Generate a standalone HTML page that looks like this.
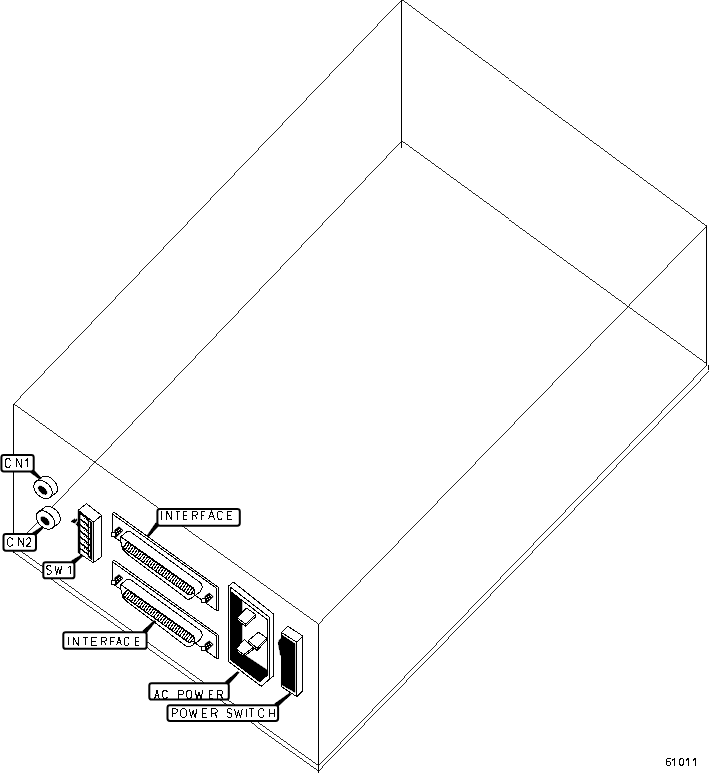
<!DOCTYPE html>
<html><head><meta charset="utf-8"><title>61011</title>
<style>
html,body{margin:0;padding:0;background:#fff;}
body{width:709px;height:773px;overflow:hidden;}
svg{display:block;}
svg text{font-family:"Liberation Sans",sans-serif;fill:#000;}
</style></head><body>
<svg width="709" height="773" viewBox="0 0 709 773" shape-rendering="crispEdges">
<rect width="709" height="773" fill="#fff"/>
<line x1="401.5" y1="0" x2="13.5" y2="404.3" stroke="#000" stroke-width="0.85" />
<line x1="13.5" y1="404.3" x2="318.5" y2="624.1" stroke="#000" stroke-width="0.85" />
<line x1="318.5" y1="624.1" x2="706.5" y2="226" stroke="#000" stroke-width="0.85" />
<line x1="706.5" y1="226" x2="401.5" y2="0" stroke="#000" stroke-width="0.85" />
<line x1="401.5" y1="0" x2="401.5" y2="147.6" stroke="#000" stroke-width="1" />
<line x1="401.5" y1="141.3" x2="13.5" y2="547.6" stroke="#000" stroke-width="0.85" />
<line x1="401.5" y1="141.3" x2="706.5" y2="363.6" stroke="#000" stroke-width="0.85" />
<line x1="13.5" y1="404.3" x2="13.5" y2="552.8" stroke="#000" stroke-width="1" />
<line x1="318.5" y1="624.1" x2="318.5" y2="773" stroke="#000" stroke-width="1" />
<line x1="706.5" y1="226" x2="706.5" y2="365.6" stroke="#000" stroke-width="1" />
<line x1="13.5" y1="546.6" x2="318.5" y2="765.7" stroke="#000" stroke-width="0.85" />
<line x1="318.5" y1="765.7" x2="706.5" y2="365.6" stroke="#000" stroke-width="0.85" />
<line x1="13.5" y1="552.8" x2="318.5" y2="771.1" stroke="#000" stroke-width="0.85" />
<line x1="318.5" y1="771.1" x2="709.5" y2="370.8" stroke="#000" stroke-width="0.85" />
<line x1="708.5" y1="364.5" x2="708.5" y2="370" stroke="#000" stroke-width="2" />
<path d="M55.97,492.97 L55.23,493.58 L54.37,494.04 L53.41,494.37 L52.37,494.53 L51.26,494.54 L50.10,494.40 L48.91,494.10 L47.71,493.65 L46.53,493.06 L45.37,492.34 L44.27,491.51 L43.24,490.56 L42.29,489.53 L41.46,488.43 L40.74,487.27 L40.15,486.09 L39.70,484.89 L39.40,483.70 L39.26,482.54 L39.27,481.43 L39.43,480.39 L39.76,479.43 L40.22,478.57 L40.83,477.83 L41.57,477.22 L42.43,476.76 L43.39,476.43 L44.43,476.27 L45.54,476.26 L46.70,476.40 L47.89,476.70 L49.09,477.15 L50.27,477.74 L51.43,478.46 L52.53,479.29 L53.56,480.24 L54.51,481.27 L55.34,482.37 L56.06,483.53 L56.65,484.71 L57.10,485.91 L57.40,487.10 L57.54,488.26 L57.53,489.37 L57.37,490.41 L57.04,491.37 L56.58,492.23 L55.97,492.97 Z" fill="#fff" stroke="#000" stroke-width="1" stroke-linejoin="round" />
<path d="M35.95,481.49 L41.35,477.39 L55.45,493.41 L50.05,497.51 Z" fill="#fff" stroke="none" stroke-width="1" stroke-linejoin="round" />
<line x1="35.94654059431282" y1="481.48689200165313" x2="41.34654059431282" y2="477.3868920016531" stroke="#000" stroke-width="1" />
<line x1="50.05345940568718" y1="497.51310799834687" x2="55.45345940568718" y2="493.41310799834685" stroke="#000" stroke-width="1" />
<path d="M50.57,497.07 L49.83,497.68 L48.97,498.14 L48.01,498.47 L46.97,498.63 L45.86,498.64 L44.70,498.50 L43.51,498.20 L42.31,497.75 L41.13,497.16 L39.97,496.44 L38.87,495.61 L37.84,494.66 L36.89,493.63 L36.06,492.53 L35.34,491.37 L34.75,490.19 L34.30,488.99 L34.00,487.80 L33.86,486.64 L33.87,485.53 L34.03,484.49 L34.36,483.53 L34.82,482.67 L35.43,481.93 L36.17,481.32 L37.03,480.86 L37.99,480.53 L39.03,480.37 L40.14,480.36 L41.30,480.50 L42.49,480.80 L43.69,481.25 L44.87,481.84 L46.03,482.56 L47.13,483.39 L48.16,484.34 L49.11,485.37 L49.94,486.47 L50.66,487.63 L51.25,488.81 L51.70,490.01 L52.00,491.20 L52.14,492.36 L52.13,493.47 L51.97,494.51 L51.64,495.47 L51.18,496.33 L50.57,497.07 Z" fill="#fff" stroke="#000" stroke-width="1" stroke-linejoin="round" />
<path d="M46.48,494.05 L46.20,494.28 L45.85,494.44 L45.44,494.54 L44.99,494.56 L44.50,494.50 L43.97,494.38 L43.42,494.18 L42.86,493.92 L42.29,493.60 L41.73,493.22 L41.18,492.79 L40.65,492.31 L40.16,491.81 L39.72,491.27 L39.32,490.73 L38.97,490.17 L38.69,489.61 L38.48,489.07 L38.33,488.55 L38.26,488.06 L38.27,487.61 L38.34,487.20 L38.49,486.84 L38.72,486.55 L39.00,486.32 L39.35,486.16 L39.76,486.06 L40.21,486.04 L40.70,486.10 L41.23,486.22 L41.78,486.42 L42.34,486.68 L42.91,487.00 L43.47,487.38 L44.02,487.81 L44.55,488.29 L45.04,488.79 L45.48,489.33 L45.88,489.87 L46.23,490.43 L46.51,490.99 L46.72,491.53 L46.87,492.05 L46.94,492.54 L46.93,492.99 L46.86,493.40 L46.71,493.76 L46.48,494.05 Z" fill="#000" stroke="#000" stroke-width="0.4" stroke-linejoin="round" />
<path d="M58.77,523.27 L58.03,523.88 L57.17,524.34 L56.21,524.67 L55.17,524.83 L54.06,524.84 L52.90,524.70 L51.71,524.40 L50.51,523.95 L49.33,523.36 L48.17,522.64 L47.07,521.81 L46.04,520.86 L45.09,519.83 L44.26,518.73 L43.54,517.57 L42.95,516.39 L42.50,515.19 L42.20,514.00 L42.06,512.84 L42.07,511.73 L42.23,510.69 L42.56,509.73 L43.02,508.87 L43.63,508.13 L44.37,507.52 L45.23,507.06 L46.19,506.73 L47.23,506.57 L48.34,506.56 L49.50,506.70 L50.69,507.00 L51.89,507.45 L53.07,508.04 L54.23,508.76 L55.33,509.59 L56.36,510.54 L57.31,511.57 L58.14,512.67 L58.86,513.83 L59.45,515.01 L59.90,516.21 L60.20,517.40 L60.34,518.56 L60.33,519.67 L60.17,520.71 L59.84,521.67 L59.38,522.53 L58.77,523.27 Z" fill="#fff" stroke="#000" stroke-width="1" stroke-linejoin="round" />
<path d="M38.39,511.95 L44.19,507.65 L58.21,523.75 L52.41,528.05 Z" fill="#fff" stroke="none" stroke-width="1" stroke-linejoin="round" />
<line x1="38.392852895227236" y1="511.9521449449033" x2="44.19285289522723" y2="507.6521449449033" stroke="#000" stroke-width="1" />
<line x1="52.40714710477276" y1="528.0478550550968" x2="58.20714710477276" y2="523.7478550550968" stroke="#000" stroke-width="1" />
<path d="M52.97,527.57 L52.23,528.18 L51.37,528.64 L50.41,528.97 L49.37,529.13 L48.26,529.14 L47.10,529.00 L45.91,528.70 L44.71,528.25 L43.53,527.66 L42.37,526.94 L41.27,526.11 L40.24,525.16 L39.29,524.13 L38.46,523.03 L37.74,521.87 L37.15,520.69 L36.70,519.49 L36.40,518.30 L36.26,517.14 L36.27,516.03 L36.43,514.99 L36.76,514.03 L37.22,513.17 L37.83,512.43 L38.57,511.82 L39.43,511.36 L40.39,511.03 L41.43,510.87 L42.54,510.86 L43.70,511.00 L44.89,511.30 L46.09,511.75 L47.27,512.34 L48.43,513.06 L49.53,513.89 L50.56,514.84 L51.51,515.87 L52.34,516.97 L53.06,518.13 L53.65,519.31 L54.10,520.51 L54.40,521.70 L54.54,522.86 L54.53,523.97 L54.37,525.01 L54.04,525.97 L53.58,526.83 L52.97,527.57 Z" fill="#fff" stroke="#000" stroke-width="1" stroke-linejoin="round" />
<path d="M48.88,524.55 L48.60,524.78 L48.25,524.94 L47.84,525.04 L47.39,525.06 L46.90,525.00 L46.37,524.88 L45.82,524.68 L45.26,524.42 L44.69,524.10 L44.13,523.72 L43.58,523.29 L43.05,522.81 L42.56,522.31 L42.12,521.77 L41.72,521.23 L41.37,520.67 L41.09,520.11 L40.88,519.57 L40.73,519.05 L40.66,518.56 L40.67,518.11 L40.74,517.70 L40.89,517.34 L41.12,517.05 L41.40,516.82 L41.75,516.66 L42.16,516.56 L42.61,516.54 L43.10,516.60 L43.63,516.72 L44.18,516.92 L44.74,517.18 L45.31,517.50 L45.87,517.88 L46.42,518.31 L46.95,518.79 L47.44,519.29 L47.88,519.83 L48.28,520.37 L48.63,520.93 L48.91,521.49 L49.12,522.03 L49.27,522.55 L49.34,523.04 L49.33,523.49 L49.26,523.90 L49.11,524.26 L48.88,524.55 Z" fill="#000" stroke="#000" stroke-width="0.4" stroke-linejoin="round" />
<path d="M78.20,510.20 L86.40,503.70 L101.60,515.30 L101.60,556.60 L93.40,562.70 L78.20,552.70 Z" fill="#fff" stroke="#000" stroke-width="1" stroke-linejoin="round" />
<path d="M78.20,510.20 L93.40,522.10 L101.60,515.30" fill="none" stroke="#000" stroke-width="1" stroke-linejoin="round" />
<line x1="93.4" y1="522.1" x2="93.4" y2="562.7" stroke="#000" stroke-width="1" />
<path d="M78.20,510.20 L80.20,511.80 L80.20,554.00 L78.20,552.70 Z" fill="#000" stroke="#000" stroke-width="0.5" stroke-linejoin="round" />
<line x1="80.0" y1="513.2" x2="88.8" y2="519.7" stroke="#000" stroke-width="1.5" />
<line x1="80.0" y1="519.1" x2="88.8" y2="525.6" stroke="#000" stroke-width="1.5" />
<line x1="80.0" y1="525.0" x2="88.8" y2="531.5" stroke="#000" stroke-width="1.5" />
<line x1="80.0" y1="531.0" x2="88.8" y2="537.5" stroke="#000" stroke-width="1.5" />
<line x1="80.0" y1="536.9" x2="88.8" y2="543.4" stroke="#000" stroke-width="1.5" />
<line x1="80.0" y1="542.8" x2="88.8" y2="549.3" stroke="#000" stroke-width="1.5" />
<line x1="80.0" y1="548.4" x2="88.8" y2="554.9" stroke="#000" stroke-width="1.5" />
<line x1="84.3" y1="518.1" x2="88.0" y2="520.9000000000001" stroke="#000" stroke-width="1.2" stroke-dasharray="1 1"/>
<line x1="84.3" y1="524.0" x2="88.0" y2="526.8000000000001" stroke="#000" stroke-width="1.2" stroke-dasharray="1 1"/>
<line x1="84.3" y1="529.9" x2="88.0" y2="532.7" stroke="#000" stroke-width="1.2" stroke-dasharray="1 1"/>
<line x1="84.3" y1="535.9" x2="88.0" y2="538.7" stroke="#000" stroke-width="1.2" stroke-dasharray="1 1"/>
<line x1="84.3" y1="541.8" x2="88.0" y2="544.6" stroke="#000" stroke-width="1.2" stroke-dasharray="1 1"/>
<line x1="84.3" y1="547.6999999999999" x2="88.0" y2="550.5" stroke="#000" stroke-width="1.2" stroke-dasharray="1 1"/>
<path d="M88.10,519.60 L92.00,522.40 L92.00,559.90 L88.10,557.20 Z" fill="#000" stroke="#000" stroke-width="0.3" stroke-linejoin="round" />
<line x1="89.6" y1="522.4" x2="89.6" y2="557.3" stroke="#fff" stroke-width="1.2" stroke-dasharray="4.2 1.7"/>
<path d="M71.00,521.60 L74.60,518.60 L74.80,520.00 L77.00,518.80 L77.00,520.80 L75.20,521.80 L75.40,523.20 Z" fill="#000" stroke="#000" stroke-width="0.5" stroke-linejoin="round" />
<path d="M76.80,522.60 L79.00,520.80 L79.20,526.20 L77.40,526.20 L77.40,524.00 L76.20,524.80 Z" fill="#000" stroke="#000" stroke-width="0.5" stroke-linejoin="round" />
<g transform="translate(0,0)">
<path d="M112.30,513.90 L216.80,588.40 L216.80,610.80 L112.30,535.60 Z" fill="#fff" stroke="#000" stroke-width="1" stroke-linejoin="round" />
<path d="M112.30,513.60 L113.90,512.20 L218.70,587.60 L218.70,610.40 L216.80,610.80" fill="none" stroke="#000" stroke-width="1" stroke-linejoin="round" />
<path d="M120.70,536.70 L126.60,531.90 L128.50,531.40 L130.40,531.70 L200.10,582.50 L201.80,584.60 L202.20,586.80 L201.80,588.80 L199.70,592.20 L196.30,594.80 L194.20,595.60 L192.90,597.30 L189.50,599.00 L187.00,599.00 L127.80,554.40 L122.30,549.00 L121.90,545.60 L120.70,541.40 Z" fill="#fff" stroke="#000" stroke-width="1" stroke-linejoin="round" />
<clipPath id="bc0"><path d="M127.4,542.2 L194.2,589.3 L194.6,593.1 L188.7,594.8 L122.3,547.6 Z"/></clipPath>
<g clip-path="url(#bc0)">
<line x1="128.20000000000002" y1="541.1" x2="122.2" y2="549.5" stroke="#000" stroke-width="1.05" />
<line x1="130.22424242424245" y1="542.5272727272727" x2="124.22424242424243" y2="550.9272727272727" stroke="#000" stroke-width="1.05" />
<line x1="132.24848484848488" y1="543.9545454545455" x2="126.24848484848486" y2="552.3545454545455" stroke="#000" stroke-width="1.05" />
<line x1="134.27272727272728" y1="545.3818181818182" x2="128.27272727272728" y2="553.7818181818182" stroke="#000" stroke-width="1.05" />
<line x1="136.2969696969697" y1="546.809090909091" x2="130.2969696969697" y2="555.209090909091" stroke="#000" stroke-width="1.05" />
<line x1="138.32121212121214" y1="548.2363636363636" x2="132.32121212121214" y2="556.6363636363636" stroke="#000" stroke-width="1.05" />
<line x1="140.34545454545457" y1="549.6636363636363" x2="134.34545454545457" y2="558.0636363636363" stroke="#000" stroke-width="1.05" />
<line x1="142.36969696969697" y1="551.0909090909091" x2="136.36969696969697" y2="559.4909090909091" stroke="#000" stroke-width="1.05" />
<line x1="144.3939393939394" y1="552.5181818181818" x2="138.3939393939394" y2="560.9181818181818" stroke="#000" stroke-width="1.05" />
<line x1="146.41818181818184" y1="553.9454545454546" x2="140.41818181818184" y2="562.3454545454546" stroke="#000" stroke-width="1.05" />
<line x1="148.44242424242427" y1="555.3727272727273" x2="142.44242424242427" y2="563.7727272727273" stroke="#000" stroke-width="1.05" />
<line x1="150.46666666666667" y1="556.8" x2="144.46666666666667" y2="565.1999999999999" stroke="#000" stroke-width="1.05" />
<line x1="152.4909090909091" y1="558.2272727272727" x2="146.4909090909091" y2="566.6272727272727" stroke="#000" stroke-width="1.05" />
<line x1="154.51515151515153" y1="559.6545454545454" x2="148.51515151515153" y2="568.0545454545454" stroke="#000" stroke-width="1.05" />
<line x1="156.53939393939396" y1="561.0818181818182" x2="150.53939393939396" y2="569.4818181818182" stroke="#000" stroke-width="1.05" />
<line x1="158.56363636363636" y1="562.5090909090909" x2="152.56363636363636" y2="570.9090909090909" stroke="#000" stroke-width="1.05" />
<line x1="160.5878787878788" y1="563.9363636363636" x2="154.5878787878788" y2="572.3363636363636" stroke="#000" stroke-width="1.05" />
<line x1="162.61212121212122" y1="565.3636363636364" x2="156.61212121212122" y2="573.7636363636364" stroke="#000" stroke-width="1.05" />
<line x1="164.63636363636363" y1="566.790909090909" x2="158.63636363636363" y2="575.190909090909" stroke="#000" stroke-width="1.05" />
<line x1="166.66060606060609" y1="568.2181818181817" x2="160.66060606060609" y2="576.6181818181817" stroke="#000" stroke-width="1.05" />
<line x1="168.6848484848485" y1="569.6454545454545" x2="162.6848484848485" y2="578.0454545454545" stroke="#000" stroke-width="1.05" />
<line x1="170.70909090909092" y1="571.0727272727272" x2="164.70909090909092" y2="579.4727272727272" stroke="#000" stroke-width="1.05" />
<line x1="172.73333333333335" y1="572.5" x2="166.73333333333335" y2="580.9" stroke="#000" stroke-width="1.05" />
<line x1="174.75757575757575" y1="573.9272727272727" x2="168.75757575757575" y2="582.3272727272727" stroke="#000" stroke-width="1.05" />
<line x1="176.78181818181818" y1="575.3545454545454" x2="170.78181818181818" y2="583.7545454545453" stroke="#000" stroke-width="1.05" />
<line x1="178.8060606060606" y1="576.7818181818182" x2="172.8060606060606" y2="585.1818181818181" stroke="#000" stroke-width="1.05" />
<line x1="180.830303030303" y1="578.2090909090908" x2="174.830303030303" y2="586.6090909090908" stroke="#000" stroke-width="1.05" />
<line x1="182.85454545454547" y1="579.6363636363636" x2="176.85454545454547" y2="588.0363636363636" stroke="#000" stroke-width="1.05" />
<line x1="184.87878787878788" y1="581.0636363636363" x2="178.87878787878788" y2="589.4636363636363" stroke="#000" stroke-width="1.05" />
<line x1="186.9030303030303" y1="582.490909090909" x2="180.9030303030303" y2="590.890909090909" stroke="#000" stroke-width="1.05" />
<line x1="188.92727272727274" y1="583.9181818181818" x2="182.92727272727274" y2="592.3181818181818" stroke="#000" stroke-width="1.05" />
<line x1="190.95151515151514" y1="585.3454545454545" x2="184.95151515151514" y2="593.7454545454544" stroke="#000" stroke-width="1.05" />
<line x1="192.9757575757576" y1="586.7727272727273" x2="186.9757575757576" y2="595.1727272727272" stroke="#000" stroke-width="1.05" />
<line x1="195.0" y1="588.1999999999999" x2="189.0" y2="596.5999999999999" stroke="#000" stroke-width="1.05" />
</g>
<path d="M127.40,542.20 L194.20,589.30 L194.60,593.10 L188.70,594.80 L122.30,547.60 Z" fill="none" stroke="#000" stroke-width="1" stroke-linejoin="round" />
<line x1="120.7" y1="536.7" x2="128.5" y2="542.2" stroke="#000" stroke-width="1.0" />
<line x1="127.4" y1="541.5" x2="194.2" y2="588.8" stroke="#000" stroke-width="1.4" />
<line x1="122.3" y1="547.4" x2="188.7" y2="594.6" stroke="#000" stroke-width="1.1" />
<path d="M194.30,589.30 L194.70,593.10 L194.00,595.60" fill="none" stroke="#000" stroke-width="1.3" stroke-linejoin="round" />
<g transform="translate(0,0)">
<path d="M114.80,530.00 L119.00,526.90 L123.00,530.40 L116.40,536.90 L114.80,535.50 Z" fill="#000" stroke="#000" stroke-width="0.8" stroke-linejoin="round" />
<rect x="117.5" y="530.1" width="1" height="1" fill="#fff"/>
<rect x="119.3" y="528.7" width="1" height="1" fill="#fff"/>
<rect x="118.9" y="531.5" width="1" height="1" fill="#fff"/>
<rect x="120.7" y="530.1" width="1" height="1" fill="#fff"/>
<rect x="117.1" y="532.9" width="1" height="1" fill="#fff"/>
<rect x="116.1" y="531.1" width="1" height="1" fill="#fff"/>
<rect x="111.4" y="532.4" width="4.2" height="4.2" rx="1" fill="#fff" stroke="#000" stroke-width="1"/>
</g>
<g transform="translate(90.2,66.3)">
<path d="M114.80,530.00 L119.00,526.90 L123.00,530.40 L116.40,536.90 L114.80,535.50 Z" fill="#000" stroke="#000" stroke-width="0.8" stroke-linejoin="round" />
<rect x="117.5" y="530.1" width="1" height="1" fill="#fff"/>
<rect x="119.3" y="528.7" width="1" height="1" fill="#fff"/>
<rect x="118.9" y="531.5" width="1" height="1" fill="#fff"/>
<rect x="120.7" y="530.1" width="1" height="1" fill="#fff"/>
<rect x="117.1" y="532.9" width="1" height="1" fill="#fff"/>
<rect x="116.1" y="531.1" width="1" height="1" fill="#fff"/>
<rect x="111.4" y="532.4" width="4.2" height="4.2" rx="1" fill="#fff" stroke="#000" stroke-width="1"/>
</g>
</g>
<g transform="translate(0,47.8)">
<path d="M112.30,513.90 L216.80,588.40 L216.80,610.80 L112.30,535.60 Z" fill="#fff" stroke="#000" stroke-width="1" stroke-linejoin="round" />
<path d="M112.30,513.60 L113.90,512.20 L218.70,587.60 L218.70,610.40 L216.80,610.80" fill="none" stroke="#000" stroke-width="1" stroke-linejoin="round" />
<path d="M120.70,536.70 L126.60,531.90 L128.50,531.40 L130.40,531.70 L200.10,582.50 L201.80,584.60 L202.20,586.80 L201.80,588.80 L199.70,592.20 L196.30,594.80 L194.20,595.60 L192.90,597.30 L189.50,599.00 L187.00,599.00 L127.80,554.40 L122.30,549.00 L121.90,545.60 L120.70,541.40 Z" fill="#fff" stroke="#000" stroke-width="1" stroke-linejoin="round" />
<clipPath id="bc47"><path d="M127.4,542.2 L194.2,589.3 L194.6,593.1 L188.7,594.8 L122.3,547.6 Z"/></clipPath>
<g clip-path="url(#bc47)">
<line x1="128.20000000000002" y1="541.1" x2="122.2" y2="549.5" stroke="#000" stroke-width="1.05" />
<line x1="130.22424242424245" y1="542.5272727272727" x2="124.22424242424243" y2="550.9272727272727" stroke="#000" stroke-width="1.05" />
<line x1="132.24848484848488" y1="543.9545454545455" x2="126.24848484848486" y2="552.3545454545455" stroke="#000" stroke-width="1.05" />
<line x1="134.27272727272728" y1="545.3818181818182" x2="128.27272727272728" y2="553.7818181818182" stroke="#000" stroke-width="1.05" />
<line x1="136.2969696969697" y1="546.809090909091" x2="130.2969696969697" y2="555.209090909091" stroke="#000" stroke-width="1.05" />
<line x1="138.32121212121214" y1="548.2363636363636" x2="132.32121212121214" y2="556.6363636363636" stroke="#000" stroke-width="1.05" />
<line x1="140.34545454545457" y1="549.6636363636363" x2="134.34545454545457" y2="558.0636363636363" stroke="#000" stroke-width="1.05" />
<line x1="142.36969696969697" y1="551.0909090909091" x2="136.36969696969697" y2="559.4909090909091" stroke="#000" stroke-width="1.05" />
<line x1="144.3939393939394" y1="552.5181818181818" x2="138.3939393939394" y2="560.9181818181818" stroke="#000" stroke-width="1.05" />
<line x1="146.41818181818184" y1="553.9454545454546" x2="140.41818181818184" y2="562.3454545454546" stroke="#000" stroke-width="1.05" />
<line x1="148.44242424242427" y1="555.3727272727273" x2="142.44242424242427" y2="563.7727272727273" stroke="#000" stroke-width="1.05" />
<line x1="150.46666666666667" y1="556.8" x2="144.46666666666667" y2="565.1999999999999" stroke="#000" stroke-width="1.05" />
<line x1="152.4909090909091" y1="558.2272727272727" x2="146.4909090909091" y2="566.6272727272727" stroke="#000" stroke-width="1.05" />
<line x1="154.51515151515153" y1="559.6545454545454" x2="148.51515151515153" y2="568.0545454545454" stroke="#000" stroke-width="1.05" />
<line x1="156.53939393939396" y1="561.0818181818182" x2="150.53939393939396" y2="569.4818181818182" stroke="#000" stroke-width="1.05" />
<line x1="158.56363636363636" y1="562.5090909090909" x2="152.56363636363636" y2="570.9090909090909" stroke="#000" stroke-width="1.05" />
<line x1="160.5878787878788" y1="563.9363636363636" x2="154.5878787878788" y2="572.3363636363636" stroke="#000" stroke-width="1.05" />
<line x1="162.61212121212122" y1="565.3636363636364" x2="156.61212121212122" y2="573.7636363636364" stroke="#000" stroke-width="1.05" />
<line x1="164.63636363636363" y1="566.790909090909" x2="158.63636363636363" y2="575.190909090909" stroke="#000" stroke-width="1.05" />
<line x1="166.66060606060609" y1="568.2181818181817" x2="160.66060606060609" y2="576.6181818181817" stroke="#000" stroke-width="1.05" />
<line x1="168.6848484848485" y1="569.6454545454545" x2="162.6848484848485" y2="578.0454545454545" stroke="#000" stroke-width="1.05" />
<line x1="170.70909090909092" y1="571.0727272727272" x2="164.70909090909092" y2="579.4727272727272" stroke="#000" stroke-width="1.05" />
<line x1="172.73333333333335" y1="572.5" x2="166.73333333333335" y2="580.9" stroke="#000" stroke-width="1.05" />
<line x1="174.75757575757575" y1="573.9272727272727" x2="168.75757575757575" y2="582.3272727272727" stroke="#000" stroke-width="1.05" />
<line x1="176.78181818181818" y1="575.3545454545454" x2="170.78181818181818" y2="583.7545454545453" stroke="#000" stroke-width="1.05" />
<line x1="178.8060606060606" y1="576.7818181818182" x2="172.8060606060606" y2="585.1818181818181" stroke="#000" stroke-width="1.05" />
<line x1="180.830303030303" y1="578.2090909090908" x2="174.830303030303" y2="586.6090909090908" stroke="#000" stroke-width="1.05" />
<line x1="182.85454545454547" y1="579.6363636363636" x2="176.85454545454547" y2="588.0363636363636" stroke="#000" stroke-width="1.05" />
<line x1="184.87878787878788" y1="581.0636363636363" x2="178.87878787878788" y2="589.4636363636363" stroke="#000" stroke-width="1.05" />
<line x1="186.9030303030303" y1="582.490909090909" x2="180.9030303030303" y2="590.890909090909" stroke="#000" stroke-width="1.05" />
<line x1="188.92727272727274" y1="583.9181818181818" x2="182.92727272727274" y2="592.3181818181818" stroke="#000" stroke-width="1.05" />
<line x1="190.95151515151514" y1="585.3454545454545" x2="184.95151515151514" y2="593.7454545454544" stroke="#000" stroke-width="1.05" />
<line x1="192.9757575757576" y1="586.7727272727273" x2="186.9757575757576" y2="595.1727272727272" stroke="#000" stroke-width="1.05" />
<line x1="195.0" y1="588.1999999999999" x2="189.0" y2="596.5999999999999" stroke="#000" stroke-width="1.05" />
</g>
<path d="M127.40,542.20 L194.20,589.30 L194.60,593.10 L188.70,594.80 L122.30,547.60 Z" fill="none" stroke="#000" stroke-width="1" stroke-linejoin="round" />
<line x1="120.7" y1="536.7" x2="128.5" y2="542.2" stroke="#000" stroke-width="1.0" />
<line x1="127.4" y1="541.5" x2="194.2" y2="588.8" stroke="#000" stroke-width="1.4" />
<line x1="122.3" y1="547.4" x2="188.7" y2="594.6" stroke="#000" stroke-width="1.1" />
<path d="M194.30,589.30 L194.70,593.10 L194.00,595.60" fill="none" stroke="#000" stroke-width="1.3" stroke-linejoin="round" />
<g transform="translate(0,0)">
<path d="M114.80,530.00 L119.00,526.90 L123.00,530.40 L116.40,536.90 L114.80,535.50 Z" fill="#000" stroke="#000" stroke-width="0.8" stroke-linejoin="round" />
<rect x="117.5" y="530.1" width="1" height="1" fill="#fff"/>
<rect x="119.3" y="528.7" width="1" height="1" fill="#fff"/>
<rect x="118.9" y="531.5" width="1" height="1" fill="#fff"/>
<rect x="120.7" y="530.1" width="1" height="1" fill="#fff"/>
<rect x="117.1" y="532.9" width="1" height="1" fill="#fff"/>
<rect x="116.1" y="531.1" width="1" height="1" fill="#fff"/>
<rect x="111.4" y="532.4" width="4.2" height="4.2" rx="1" fill="#fff" stroke="#000" stroke-width="1"/>
</g>
<g transform="translate(90.2,66.3)">
<path d="M114.80,530.00 L119.00,526.90 L123.00,530.40 L116.40,536.90 L114.80,535.50 Z" fill="#000" stroke="#000" stroke-width="0.8" stroke-linejoin="round" />
<rect x="117.5" y="530.1" width="1" height="1" fill="#fff"/>
<rect x="119.3" y="528.7" width="1" height="1" fill="#fff"/>
<rect x="118.9" y="531.5" width="1" height="1" fill="#fff"/>
<rect x="120.7" y="530.1" width="1" height="1" fill="#fff"/>
<rect x="117.1" y="532.9" width="1" height="1" fill="#fff"/>
<rect x="116.1" y="531.1" width="1" height="1" fill="#fff"/>
<rect x="111.4" y="532.4" width="4.2" height="4.2" rx="1" fill="#fff" stroke="#000" stroke-width="1"/>
</g>
</g>
<path d="M228.30,586.20 L233.40,582.10 L273.60,614.10 L273.60,675.80 L261.30,686.30 L228.30,661.40 Z" fill="#fff" stroke="#000" stroke-width="1" stroke-linejoin="round" />
<path d="M230.00,659.70 L230.00,586.80 L269.80,617.50 L269.80,678.60" fill="none" stroke="#000" stroke-width="1" stroke-linejoin="round" />
<path d="M230.50,592.10 L231.30,592.10 L267.70,620.00 L267.70,674.90 L259.60,681.70 L230.50,659.70 Z" fill="#fff" stroke="#000" stroke-width="1" stroke-linejoin="round" />
<path d="M230.50,592.10 L231.30,592.10 L241.90,600.50 L241.90,653.30 L267.70,670.40 L267.70,674.90 L259.60,681.70 L230.50,659.70 Z" fill="#000" stroke="#000" stroke-width="0.6" stroke-linejoin="round" />
<path d="M236.80,617.50 L246.50,608.10 L255.80,614.50 L255.80,616.60 L245.70,626.30 L236.80,619.60 Z" fill="#fff" stroke="#000" stroke-width="1" stroke-linejoin="round" />
<path d="M236.80,617.50 L245.70,624.20 L255.80,614.50" fill="none" stroke="#000" stroke-width="1" stroke-linejoin="round" />
<line x1="245.7" y1="624.2" x2="245.7" y2="626.3000000000001" stroke="#000" stroke-width="1" />
<path d="M236.00,648.70 L244.40,639.40 L253.30,647.40 L253.30,649.50 L243.60,656.70 L236.00,650.80 Z" fill="#fff" stroke="#000" stroke-width="1" stroke-linejoin="round" />
<path d="M236.00,648.70 L243.60,654.60 L253.30,647.40" fill="none" stroke="#000" stroke-width="1" stroke-linejoin="round" />
<line x1="243.6" y1="654.6" x2="243.6" y2="656.7" stroke="#000" stroke-width="1" />
<path d="M248.20,640.70 L258.40,632.20 L266.80,638.10 L266.80,640.20 L257.10,650.40 L248.20,642.80 Z" fill="#fff" stroke="#000" stroke-width="1" stroke-linejoin="round" />
<path d="M248.20,640.70 L257.10,648.30 L266.80,638.10" fill="none" stroke="#000" stroke-width="1" stroke-linejoin="round" />
<line x1="257.1" y1="648.3" x2="257.1" y2="650.4" stroke="#000" stroke-width="1" />
<path d="M281.40,632.40 L287.60,626.20 L302.90,636.00 L302.90,690.90 L296.70,696.60 L281.40,686.70 Z" fill="#fff" stroke="#000" stroke-width="1" stroke-linejoin="round" />
<path d="M281.40,632.40 L296.70,642.20 L302.90,636.00" fill="none" stroke="#000" stroke-width="1" stroke-linejoin="round" />
<line x1="296.7" y1="642.2" x2="296.7" y2="696.6" stroke="#000" stroke-width="1" />
<path d="M281.90,635.00 L295.00,643.80 L295.00,692.40 L281.40,684.70 Z" fill="#000" stroke="#000" stroke-width="0.4" stroke-linejoin="round" />
<path d="M281.60,638.10 L279.30,639.70 L278.30,642.80 L278.80,646.90 L279.80,651.00 L280.30,655.20 L281.60,655.70 Z" fill="#000" stroke="#000" stroke-width="0.5" stroke-linejoin="round" />
<path d="M30.50,472.56 L33.30,469.44 L41.20,478.13 L40.00,479.47 Z" fill="#000" stroke="#000" stroke-width="0.7" stroke-linejoin="round" />
<rect x="1.40" y="454.90" width="32.30" height="16.60" rx="2.4" fill="#fff" stroke="#000" stroke-width="2.0" shape-rendering="geometricPrecision"/>
<path d="M10.50,460.54 L9.48,458.95 L7.95,458.60 L6.42,458.95 L5.40,460.54 L5.40,465.46 L6.42,467.05 L7.95,467.40 L9.48,467.05 L10.50,465.46" fill="none" stroke="#000" stroke-width="1.0" stroke-linejoin="round" stroke-linecap="butt" shape-rendering="crispEdges"/>
<path d="M16.60,467.40 L16.60,458.60 L21.50,467.40 L21.50,458.60" fill="none" stroke="#000" stroke-width="1.0" stroke-linejoin="round" stroke-linecap="butt" shape-rendering="crispEdges"/>
<path d="M25.50,461.06 L27.80,458.60 L27.80,467.40" fill="none" stroke="#000" stroke-width="1.0" stroke-linejoin="round" stroke-linecap="butt" shape-rendering="crispEdges"/>
<path d="M34.91,536.24 L32.29,532.96 L42.04,526.70 L43.16,528.10 Z" fill="#000" stroke="#000" stroke-width="0.7" stroke-linejoin="round" />
<rect x="3.50" y="534.10" width="32.50" height="16.60" rx="2.4" fill="#fff" stroke="#000" stroke-width="2.0" shape-rendering="geometricPrecision"/>
<path d="M12.80,539.65 L11.74,538.14 L10.15,537.80 L8.56,538.14 L7.50,539.65 L7.50,544.35 L8.56,545.86 L10.15,546.20 L11.74,545.86 L12.80,544.35" fill="none" stroke="#000" stroke-width="1.0" stroke-linejoin="round" stroke-linecap="butt" shape-rendering="crispEdges"/>
<path d="M18.80,546.20 L18.80,537.80 L23.80,546.20 L23.80,537.80" fill="none" stroke="#000" stroke-width="1.0" stroke-linejoin="round" stroke-linecap="butt" shape-rendering="crispEdges"/>
<path d="M26.50,539.65 L27.38,538.14 L28.70,537.80 L30.02,538.14 L30.90,539.65 L30.90,541.16 L26.50,546.20 L30.90,546.20" fill="none" stroke="#000" stroke-width="1.0" stroke-linejoin="round" stroke-linecap="butt" shape-rendering="crispEdges"/>
<path d="M73.85,564.29 L71.35,560.91 L82.06,554.48 L83.14,555.92 Z" fill="#000" stroke="#000" stroke-width="0.7" stroke-linejoin="round" />
<rect x="43.30" y="562.30" width="31.10" height="16.00" rx="2.4" fill="#fff" stroke="#000" stroke-width="2.0" shape-rendering="geometricPrecision"/>
<path d="M51.20,567.13 L50.23,565.70 L47.77,565.70 L46.80,566.96 L46.80,568.47 L47.77,569.56 L50.23,570.24 L51.20,571.33 L51.20,572.84 L50.23,574.10 L47.77,574.10 L46.80,572.67" fill="none" stroke="#000" stroke-width="1.0" stroke-linejoin="round" stroke-linecap="butt" shape-rendering="crispEdges"/>
<path d="M54.90,565.70 L56.62,574.10 L58.35,567.80 L60.07,574.10 L61.80,565.70" fill="none" stroke="#000" stroke-width="1.0" stroke-linejoin="round" stroke-linecap="butt" shape-rendering="crispEdges"/>
<path d="M68.00,568.05 L70.00,565.70 L70.00,574.10" fill="none" stroke="#000" stroke-width="1.0" stroke-linejoin="round" stroke-linecap="butt" shape-rendering="crispEdges"/>
<path d="M155.96,522.69 L159.24,525.31 L148.30,537.06 L146.90,535.94 Z" fill="#000" stroke="#000" stroke-width="0.7" stroke-linejoin="round" />
<rect x="157.40" y="509.00" width="82.40" height="16.70" rx="2.4" fill="#fff" stroke="#000" stroke-width="2.0" shape-rendering="geometricPrecision"/>
<path d="M161.30,511.00 L161.30,519.50" fill="none" stroke="#000" stroke-width="1.0" stroke-linejoin="round" stroke-linecap="butt" shape-rendering="crispEdges"/>
<path d="M166.70,519.50 L166.70,511.00 L171.30,519.50 L171.30,511.00" fill="none" stroke="#000" stroke-width="1.0" stroke-linejoin="round" stroke-linecap="butt" shape-rendering="crispEdges"/>
<path d="M175.90,511.00 L179.50,511.00" fill="none" stroke="#000" stroke-width="1.0" stroke-linejoin="round" stroke-linecap="butt" shape-rendering="crispEdges"/>
<path d="M177.70,511.00 L177.70,519.50" fill="none" stroke="#000" stroke-width="1.0" stroke-linejoin="round" stroke-linecap="butt" shape-rendering="crispEdges"/>
<path d="M187.20,511.00 L183.70,511.00 L183.70,519.50 L187.20,519.50" fill="none" stroke="#000" stroke-width="1.0" stroke-linejoin="round" stroke-linecap="butt" shape-rendering="crispEdges"/>
<path d="M183.70,515.25 L186.50,515.25" fill="none" stroke="#000" stroke-width="1.0" stroke-linejoin="round" stroke-linecap="butt" shape-rendering="crispEdges"/>
<path d="M192.80,519.50 L192.80,511.00 L195.95,511.00 L197.30,512.02 L197.30,514.23 L195.95,515.25 L192.80,515.25" fill="none" stroke="#000" stroke-width="1.0" stroke-linejoin="round" stroke-linecap="butt" shape-rendering="crispEdges"/>
<path d="M195.28,515.25 L197.30,519.50" fill="none" stroke="#000" stroke-width="1.0" stroke-linejoin="round" stroke-linecap="butt" shape-rendering="crispEdges"/>
<path d="M205.20,511.00 L201.60,511.00 L201.60,519.50" fill="none" stroke="#000" stroke-width="1.0" stroke-linejoin="round" stroke-linecap="butt" shape-rendering="crispEdges"/>
<path d="M201.60,515.25 L204.48,515.25" fill="none" stroke="#000" stroke-width="1.0" stroke-linejoin="round" stroke-linecap="butt" shape-rendering="crispEdges"/>
<path d="M208.50,519.50 L211.55,511.00 L214.60,519.50" fill="none" stroke="#000" stroke-width="1.0" stroke-linejoin="round" stroke-linecap="butt" shape-rendering="crispEdges"/>
<path d="M209.72,516.61 L213.38,516.61" fill="none" stroke="#000" stroke-width="1.0" stroke-linejoin="round" stroke-linecap="butt" shape-rendering="crispEdges"/>
<path d="M222.40,512.87 L221.44,511.34 L220.00,511.00 L218.56,511.34 L217.60,512.87 L217.60,517.63 L218.56,519.16 L220.00,519.50 L221.44,519.16 L222.40,517.63" fill="none" stroke="#000" stroke-width="1.0" stroke-linejoin="round" stroke-linecap="butt" shape-rendering="crispEdges"/>
<path d="M231.50,511.00 L227.60,511.00 L227.60,519.50 L231.50,519.50" fill="none" stroke="#000" stroke-width="1.0" stroke-linejoin="round" stroke-linecap="butt" shape-rendering="crispEdges"/>
<path d="M227.60,515.25 L230.72,515.25" fill="none" stroke="#000" stroke-width="1.0" stroke-linejoin="round" stroke-linecap="butt" shape-rendering="crispEdges"/>
<path d="M145.84,633.82 L142.76,630.98 L154.24,620.29 L155.56,621.51 Z" fill="#000" stroke="#000" stroke-width="0.7" stroke-linejoin="round" />
<rect x="63.30" y="632.20" width="83.30" height="16.60" rx="2.4" fill="#fff" stroke="#000" stroke-width="2.0" shape-rendering="geometricPrecision"/>
<path d="M68.30,637.00 L68.30,645.40" fill="none" stroke="#000" stroke-width="1.0" stroke-linejoin="round" stroke-linecap="butt" shape-rendering="crispEdges"/>
<path d="M73.20,645.40 L73.20,637.00 L78.20,645.40 L78.20,637.00" fill="none" stroke="#000" stroke-width="1.0" stroke-linejoin="round" stroke-linecap="butt" shape-rendering="crispEdges"/>
<path d="M83.00,637.00 L87.80,637.00" fill="none" stroke="#000" stroke-width="1.0" stroke-linejoin="round" stroke-linecap="butt" shape-rendering="crispEdges"/>
<path d="M85.40,637.00 L85.40,645.40" fill="none" stroke="#000" stroke-width="1.0" stroke-linejoin="round" stroke-linecap="butt" shape-rendering="crispEdges"/>
<path d="M96.60,637.00 L91.90,637.00 L91.90,645.40 L96.60,645.40" fill="none" stroke="#000" stroke-width="1.0" stroke-linejoin="round" stroke-linecap="butt" shape-rendering="crispEdges"/>
<path d="M91.90,641.20 L95.66,641.20" fill="none" stroke="#000" stroke-width="1.0" stroke-linejoin="round" stroke-linecap="butt" shape-rendering="crispEdges"/>
<path d="M101.40,645.40 L101.40,637.00 L104.76,637.00 L106.20,638.01 L106.20,640.19 L104.76,641.20 L101.40,641.20" fill="none" stroke="#000" stroke-width="1.0" stroke-linejoin="round" stroke-linecap="butt" shape-rendering="crispEdges"/>
<path d="M104.04,641.20 L106.20,645.40" fill="none" stroke="#000" stroke-width="1.0" stroke-linejoin="round" stroke-linecap="butt" shape-rendering="crispEdges"/>
<path d="M115.10,637.00 L110.90,637.00 L110.90,645.40" fill="none" stroke="#000" stroke-width="1.0" stroke-linejoin="round" stroke-linecap="butt" shape-rendering="crispEdges"/>
<path d="M110.90,641.20 L114.26,641.20" fill="none" stroke="#000" stroke-width="1.0" stroke-linejoin="round" stroke-linecap="butt" shape-rendering="crispEdges"/>
<path d="M116.70,645.40 L119.05,637.00 L121.40,645.40" fill="none" stroke="#000" stroke-width="1.0" stroke-linejoin="round" stroke-linecap="butt" shape-rendering="crispEdges"/>
<path d="M117.64,642.54 L120.46,642.54" fill="none" stroke="#000" stroke-width="1.0" stroke-linejoin="round" stroke-linecap="butt" shape-rendering="crispEdges"/>
<path d="M129.00,638.85 L128.06,637.34 L126.65,637.00 L125.24,637.34 L124.30,638.85 L124.30,643.55 L125.24,645.06 L126.65,645.40 L128.06,645.06 L129.00,643.55" fill="none" stroke="#000" stroke-width="1.0" stroke-linejoin="round" stroke-linecap="butt" shape-rendering="crispEdges"/>
<path d="M139.20,637.00 L135.70,637.00 L135.70,645.40 L139.20,645.40" fill="none" stroke="#000" stroke-width="1.0" stroke-linejoin="round" stroke-linecap="butt" shape-rendering="crispEdges"/>
<path d="M135.70,641.20 L138.50,641.20" fill="none" stroke="#000" stroke-width="1.0" stroke-linejoin="round" stroke-linecap="butt" shape-rendering="crispEdges"/>
<path d="M228.05,684.92 L225.15,681.88 L237.78,671.45 L239.02,672.75 Z" fill="#000" stroke="#000" stroke-width="0.7" stroke-linejoin="round" />
<rect x="149.30" y="683.20" width="79.50" height="16.40" rx="2.4" fill="#fff" stroke="#000" stroke-width="2.0" shape-rendering="geometricPrecision"/>
<path d="M154.70,698.70 L156.95,690.20 L159.20,698.70" fill="none" stroke="#000" stroke-width="1.0" stroke-linejoin="round" stroke-linecap="butt" shape-rendering="crispEdges"/>
<path d="M155.60,695.81 L158.30,695.81" fill="none" stroke="#000" stroke-width="1.0" stroke-linejoin="round" stroke-linecap="butt" shape-rendering="crispEdges"/>
<path d="M167.40,692.07 L166.46,690.54 L165.05,690.20 L163.64,690.54 L162.70,692.07 L162.70,696.83 L163.64,698.36 L165.05,698.70 L166.46,698.36 L167.40,696.83" fill="none" stroke="#000" stroke-width="1.0" stroke-linejoin="round" stroke-linecap="butt" shape-rendering="crispEdges"/>
<path d="M178.80,698.70 L178.80,690.20 L181.95,690.20 L183.30,691.22 L183.30,693.60 L181.95,694.62 L178.80,694.62" fill="none" stroke="#000" stroke-width="1.0" stroke-linejoin="round" stroke-linecap="butt" shape-rendering="crispEdges"/>
<path d="M188.21,690.20 L190.09,690.20 L191.50,691.90 L191.50,697.00 L190.09,698.70 L188.21,698.70 L186.80,697.00 L186.80,691.90 L188.21,690.20" fill="none" stroke="#000" stroke-width="1.0" stroke-linejoin="round" stroke-linecap="butt" shape-rendering="crispEdges"/>
<path d="M195.00,690.20 L197.00,698.70 L199.00,692.33 L201.00,698.70 L203.00,690.20" fill="none" stroke="#000" stroke-width="1.0" stroke-linejoin="round" stroke-linecap="butt" shape-rendering="crispEdges"/>
<path d="M213.10,690.20 L209.00,690.20 L209.00,698.70 L213.10,698.70" fill="none" stroke="#000" stroke-width="1.0" stroke-linejoin="round" stroke-linecap="butt" shape-rendering="crispEdges"/>
<path d="M209.00,694.45 L212.28,694.45" fill="none" stroke="#000" stroke-width="1.0" stroke-linejoin="round" stroke-linecap="butt" shape-rendering="crispEdges"/>
<path d="M217.90,698.70 L217.90,690.20 L221.19,690.20 L222.60,691.22 L222.60,693.43 L221.19,694.45 L217.90,694.45" fill="none" stroke="#000" stroke-width="1.0" stroke-linejoin="round" stroke-linecap="butt" shape-rendering="crispEdges"/>
<path d="M220.49,694.45 L222.60,698.70" fill="none" stroke="#000" stroke-width="1.0" stroke-linejoin="round" stroke-linecap="butt" shape-rendering="crispEdges"/>
<path d="M277.32,707.03 L274.68,703.77 L289.73,693.10 L290.87,694.50 Z" fill="#000" stroke="#000" stroke-width="0.7" stroke-linejoin="round" />
<rect x="167.50" y="705.20" width="110.60" height="15.80" rx="2.4" fill="#fff" stroke="#000" stroke-width="2.0" shape-rendering="geometricPrecision"/>
<path d="M172.40,717.40 L172.40,708.60 L175.69,708.60 L177.10,709.66 L177.10,712.12 L175.69,713.18 L172.40,713.18" fill="none" stroke="#000" stroke-width="1.0" stroke-linejoin="round" stroke-linecap="butt" shape-rendering="crispEdges"/>
<path d="M182.46,708.60 L184.54,708.60 L186.10,710.36 L186.10,715.64 L184.54,717.40 L182.46,717.40 L180.90,715.64 L180.90,710.36 L182.46,708.60" fill="none" stroke="#000" stroke-width="1.0" stroke-linejoin="round" stroke-linecap="butt" shape-rendering="crispEdges"/>
<path d="M189.30,708.60 L191.25,717.40 L193.20,710.80 L195.15,717.40 L197.10,708.60" fill="none" stroke="#000" stroke-width="1.0" stroke-linejoin="round" stroke-linecap="butt" shape-rendering="crispEdges"/>
<path d="M206.90,708.60 L202.40,708.60 L202.40,717.40 L206.90,717.40" fill="none" stroke="#000" stroke-width="1.0" stroke-linejoin="round" stroke-linecap="butt" shape-rendering="crispEdges"/>
<path d="M202.40,713.00 L206.00,713.00" fill="none" stroke="#000" stroke-width="1.0" stroke-linejoin="round" stroke-linecap="butt" shape-rendering="crispEdges"/>
<path d="M211.90,717.40 L211.90,708.60 L215.47,708.60 L217.00,709.66 L217.00,711.94 L215.47,713.00 L211.90,713.00" fill="none" stroke="#000" stroke-width="1.0" stroke-linejoin="round" stroke-linecap="butt" shape-rendering="crispEdges"/>
<path d="M214.71,713.00 L217.00,717.40" fill="none" stroke="#000" stroke-width="1.0" stroke-linejoin="round" stroke-linecap="butt" shape-rendering="crispEdges"/>
<path d="M231.80,710.10 L230.77,708.60 L228.13,708.60 L227.10,709.92 L227.10,711.50 L228.13,712.65 L230.77,713.35 L231.80,714.50 L231.80,716.08 L230.77,717.40 L228.13,717.40 L227.10,715.90" fill="none" stroke="#000" stroke-width="1.0" stroke-linejoin="round" stroke-linecap="butt" shape-rendering="crispEdges"/>
<path d="M234.50,708.60 L236.47,717.40 L238.45,710.80 L240.43,717.40 L242.40,708.60" fill="none" stroke="#000" stroke-width="1.0" stroke-linejoin="round" stroke-linecap="butt" shape-rendering="crispEdges"/>
<path d="M246.10,708.60 L246.10,717.40" fill="none" stroke="#000" stroke-width="1.0" stroke-linejoin="round" stroke-linecap="butt" shape-rendering="crispEdges"/>
<path d="M248.90,708.60 L254.30,708.60" fill="none" stroke="#000" stroke-width="1.0" stroke-linejoin="round" stroke-linecap="butt" shape-rendering="crispEdges"/>
<path d="M251.60,708.60 L251.60,717.40" fill="none" stroke="#000" stroke-width="1.0" stroke-linejoin="round" stroke-linecap="butt" shape-rendering="crispEdges"/>
<path d="M263.90,710.54 L262.86,708.95 L261.30,708.60 L259.74,708.95 L258.70,710.54 L258.70,715.46 L259.74,717.05 L261.30,717.40 L262.86,717.05 L263.90,715.46" fill="none" stroke="#000" stroke-width="1.0" stroke-linejoin="round" stroke-linecap="butt" shape-rendering="crispEdges"/>
<path d="M269.70,708.60 L269.70,717.40" fill="none" stroke="#000" stroke-width="1.0" stroke-linejoin="round" stroke-linecap="butt" shape-rendering="crispEdges"/>
<path d="M274.90,708.60 L274.90,717.40" fill="none" stroke="#000" stroke-width="1.0" stroke-linejoin="round" stroke-linecap="butt" shape-rendering="crispEdges"/>
<path d="M269.70,713.00 L274.90,713.00" fill="none" stroke="#000" stroke-width="1.0" stroke-linejoin="round" stroke-linecap="butt" shape-rendering="crispEdges"/>
<path d="M670.48,759.18 L669.38,758.30 L667.62,758.30 L666.30,759.76 L666.30,764.14 L667.62,765.60 L669.38,765.60 L670.70,764.29 L670.70,762.53 L669.38,761.37 L667.62,761.37 L666.30,762.53" fill="none" stroke="#000" stroke-width="1.2" stroke-linejoin="round" stroke-linecap="butt" shape-rendering="crispEdges"/>
<path d="M672.30,760.34 L674.70,758.30 L674.70,765.60" fill="none" stroke="#000" stroke-width="1.2" stroke-linejoin="round" stroke-linecap="butt" shape-rendering="crispEdges"/>
<path d="M680.73,758.30 L682.37,758.30 L683.60,759.91 L683.60,763.99 L682.37,765.60 L680.73,765.60 L679.50,763.99 L679.50,759.91 L680.73,758.30" fill="none" stroke="#000" stroke-width="1.2" stroke-linejoin="round" stroke-linecap="butt" shape-rendering="crispEdges"/>
<path d="M685.90,760.34 L688.30,758.30 L688.30,765.60" fill="none" stroke="#000" stroke-width="1.2" stroke-linejoin="round" stroke-linecap="butt" shape-rendering="crispEdges"/>
<path d="M693.10,760.34 L695.70,758.30 L695.70,765.60" fill="none" stroke="#000" stroke-width="1.2" stroke-linejoin="round" stroke-linecap="butt" shape-rendering="crispEdges"/>
</svg>
</body></html>
